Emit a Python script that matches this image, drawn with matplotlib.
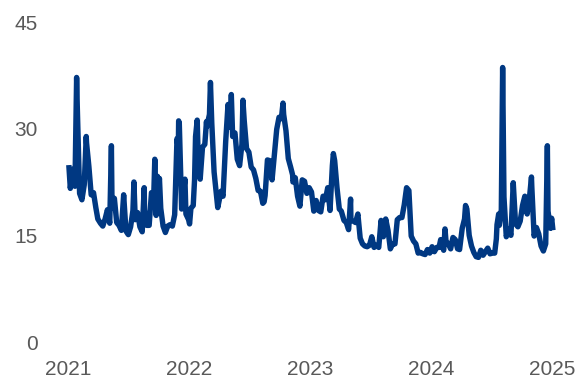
import matplotlib
matplotlib.use("Agg")
import matplotlib.pyplot as plt
import numpy as np
import pandas as pd

# VIX closes (weekly plus the spike days)
dates_2021 = ["2021-01-04", "2021-01-08", "2021-01-15", "2021-01-22", "2021-01-27", "2021-01-29",
              "2021-02-05", "2021-02-12", "2021-02-19", "2021-02-25", "2021-02-26", "2021-03-05",
              "2021-03-12", "2021-03-19", "2021-03-26", "2021-04-01", "2021-04-09", "2021-04-16",
              "2021-04-23", "2021-04-30", "2021-05-07", "2021-05-12", "2021-05-14", "2021-05-21",
              "2021-05-28", "2021-06-04", "2021-06-11", "2021-06-18", "2021-06-25", "2021-07-02",
              "2021-07-09", "2021-07-16", "2021-07-19", "2021-07-23", "2021-07-30", "2021-08-06",
              "2021-08-13", "2021-08-19", "2021-08-20", "2021-08-27", "2021-09-03", "2021-09-10",
              "2021-09-17", "2021-09-20", "2021-09-24", "2021-09-28", "2021-10-01", "2021-10-04",
              "2021-10-08", "2021-10-15", "2021-10-22", "2021-10-29", "2021-11-05", "2021-11-12",
              "2021-11-19", "2021-11-26", "2021-11-30", "2021-12-01", "2021-12-03", "2021-12-10",
              "2021-12-17", "2021-12-20", "2021-12-23", "2021-12-31"]
vix_2021 = [24.5, 21.6, 24.3, 21.9, 37.2, 33.1,
            20.9, 20.0, 22.1, 28.9, 28.0, 24.7,
            20.7, 21.0, 18.9, 17.3, 16.7, 16.3,
            17.3, 18.6, 16.7, 27.6, 18.8, 20.2,
            16.8, 16.4, 15.7, 20.7, 15.6, 15.1,
            16.2, 18.5, 22.5, 17.2, 18.2, 16.2,
            15.5, 21.7, 18.6, 16.4, 16.4, 21.0,
            20.8, 25.7, 17.8, 23.3, 21.2, 23.0,
            18.8, 16.3, 15.4, 16.3, 16.5, 16.3,
            17.9, 28.6, 27.2, 31.1, 30.7, 18.7,
            21.6, 22.9, 18.0, 17.2]

dates_2022 = ["2022-01-03", "2022-01-07", "2022-01-14", "2022-01-18", "2022-01-21", "2022-01-26",
              "2022-01-28", "2022-02-04", "2022-02-11", "2022-02-18", "2022-02-23", "2022-02-24",
              "2022-03-04", "2022-03-07", "2022-03-11", "2022-03-18", "2022-03-25", "2022-03-29",
              "2022-04-01", "2022-04-08", "2022-04-14", "2022-04-22", "2022-04-29", "2022-05-06",
              "2022-05-09", "2022-05-13", "2022-05-20", "2022-05-27", "2022-06-03", "2022-06-10",
              "2022-06-13", "2022-06-17", "2022-06-24", "2022-07-01", "2022-07-08", "2022-07-15",
              "2022-07-22", "2022-07-29", "2022-08-05", "2022-08-12", "2022-08-16", "2022-08-19",
              "2022-08-26", "2022-09-02", "2022-09-09", "2022-09-16", "2022-09-23", "2022-09-30",
              "2022-10-07", "2022-10-12", "2022-10-14", "2022-10-21", "2022-10-28", "2022-11-04",
              "2022-11-10", "2022-11-11", "2022-11-18", "2022-11-25", "2022-12-02", "2022-12-09",
              "2022-12-16", "2022-12-23", "2022-12-30"]
vix_2022 = [16.6, 18.8, 19.2, 22.8, 28.9, 31.2,
            27.7, 22.9, 27.4, 27.8, 31.0, 30.3,
            32.0, 36.5, 30.8, 23.9, 20.8, 18.9,
            19.6, 21.2, 20.5, 28.2, 33.4, 30.2,
            34.8, 28.9, 29.4, 25.7, 24.8, 27.8,
            34.0, 31.1, 27.2, 26.7, 24.6, 24.2,
            23.0, 21.3, 21.2, 19.5, 19.7, 20.6,
            25.6, 25.5, 22.8, 26.3, 29.9, 31.6,
            31.4, 33.6, 32.0, 29.7, 25.8, 24.6,
            23.5, 22.5, 23.1, 20.5, 19.1, 22.8,
            22.6, 20.9, 21.7]

dates_2023 = ["2023-01-06", "2023-01-13", "2023-01-20", "2023-01-27", "2023-02-03", "2023-02-10",
              "2023-02-17", "2023-02-24", "2023-03-03", "2023-03-10", "2023-03-13", "2023-03-17",
              "2023-03-24", "2023-03-31", "2023-04-06", "2023-04-14", "2023-04-21", "2023-04-28",
              "2023-05-04", "2023-05-05", "2023-05-12", "2023-05-19", "2023-05-26", "2023-06-02",
              "2023-06-09", "2023-06-16", "2023-06-23", "2023-06-30", "2023-07-07", "2023-07-14",
              "2023-07-21", "2023-07-28", "2023-08-04", "2023-08-11", "2023-08-18", "2023-08-25",
              "2023-09-01", "2023-09-08", "2023-09-15", "2023-09-22", "2023-09-29", "2023-10-06",
              "2023-10-13", "2023-10-20", "2023-10-27", "2023-11-03", "2023-11-10", "2023-11-17",
              "2023-11-24", "2023-12-01", "2023-12-08", "2023-12-15", "2023-12-22", "2023-12-29"]
vix_2023 = [21.1, 18.4, 19.9, 18.5, 18.3, 20.5,
            20.0, 21.7, 18.5, 24.8, 26.5, 25.5,
            21.7, 18.7, 18.4, 17.1, 16.8, 15.8,
            20.1, 17.2, 17.0, 16.8, 18.0, 14.6,
            13.8, 13.5, 13.4, 13.6, 14.8, 13.3,
            13.6, 13.3, 17.1, 14.8, 17.3, 15.7,
            13.1, 13.8, 13.8, 17.2, 17.5, 17.5,
            19.3, 21.7, 21.3, 14.9, 14.2, 13.8,
            12.5, 12.6, 12.4, 12.3, 13.0, 12.5]

dates_2024 = ["2024-01-05", "2024-01-12", "2024-01-19", "2024-01-26", "2024-01-31", "2024-02-02",
              "2024-02-09", "2024-02-13", "2024-02-16", "2024-02-23", "2024-03-01", "2024-03-08",
              "2024-03-15", "2024-03-22", "2024-03-28", "2024-04-05", "2024-04-12", "2024-04-15",
              "2024-04-19", "2024-04-26", "2024-05-03", "2024-05-10", "2024-05-17", "2024-05-24",
              "2024-05-31", "2024-06-07", "2024-06-14", "2024-06-21", "2024-06-28", "2024-07-05",
              "2024-07-12", "2024-07-17", "2024-07-19", "2024-07-24", "2024-07-26", "2024-08-01",
              "2024-08-02", "2024-08-05", "2024-08-09", "2024-08-16", "2024-08-23", "2024-08-30",
              "2024-09-06", "2024-09-13", "2024-09-20", "2024-09-27", "2024-10-04", "2024-10-11",
              "2024-10-18", "2024-10-25", "2024-10-31", "2024-11-01", "2024-11-08", "2024-11-15",
              "2024-11-22", "2024-11-29", "2024-12-06", "2024-12-13", "2024-12-18", "2024-12-20",
              "2024-12-27", "2024-12-31", "2025-01-03"]
vix_2024 = [13.4, 12.7, 13.3, 13.3, 14.4, 13.9,
            12.9, 15.9, 14.2, 13.8, 13.1, 14.7,
            14.4, 13.1, 13.0, 16.0, 17.3, 19.2,
            18.7, 15.0, 13.5, 12.6, 12.0, 11.9,
            12.9, 12.2, 12.7, 13.2, 12.4, 12.5,
            12.5, 14.5, 16.5, 18.0, 16.4, 18.6,
            23.4, 38.6, 20.4, 14.8, 15.9, 15.0,
            22.4, 16.6, 16.2, 17.0, 19.2, 20.5,
            18.0, 20.3, 23.2, 21.9, 14.9, 16.1,
            15.2, 13.5, 12.8, 13.8, 27.6, 18.4,
            16.0, 17.4, 16.1]

dates = pd.to_datetime(dates_2021 + dates_2022 + dates_2023 + dates_2024)
vix = np.array(vix_2021 + vix_2022 + vix_2023 + vix_2024)

yticks = [0, 15, 30, 45]
years = ["2021", "2022", "2023", "2024", "2025"]

plt.rcParams['font.family'] = ['Liberation Sans', 'DejaVu Sans']

fig = plt.figure(figsize=(5.85, 3.83), dpi=100)
ax = fig.add_axes([68 / 585, 41 / 383, (552 - 68) / 585, 320 / 383])

ax.plot(dates, vix, color='#003882', linewidth=3.9, solid_joinstyle='round', clip_on=False)

ax.set_ylim(0, 45)
ax.set_yticks(yticks)
ax.set_xlim(pd.Timestamp("2021-01-01"), pd.Timestamp("2025-01-01"))
ax.set_xticks(pd.to_datetime([y + "-01-01" for y in years]))
ax.set_xticklabels(years)

for s in ax.spines.values():
    s.set_visible(False)
ax.tick_params(axis='both', length=0, labelsize=15, colors='#595959')
ax.tick_params(axis='y', pad=22)
ax.tick_params(axis='x', pad=13)

fig.savefig("out.png", dpi=100)
